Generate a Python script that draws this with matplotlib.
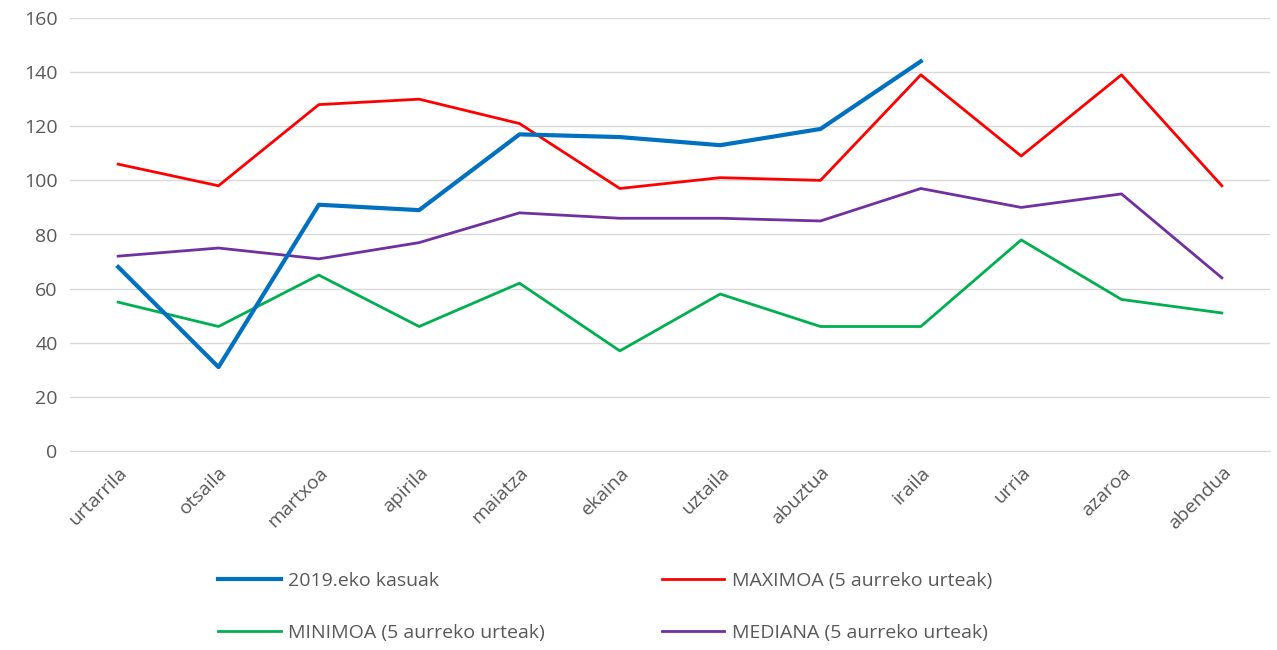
import matplotlib.pyplot as plt

months = ['urtarrila', 'otsaila', 'martxoa', 'apirila', 'maiatza', 'ekaina',
          'uztaila', 'abuztua', 'iraila', 'urria', 'azaroa', 'abendua']
cases_2019 = [68, 31, 91, 89, 117, 116, 113, 119, 144]
maximoa = [106, 98, 128, 130, 121, 97, 101, 100, 139, 109, 139, 98]
minimoa = [55, 46, 65, 46, 62, 37, 58, 46, 46, 78, 56, 51]
mediana = [72, 75, 71, 77, 88, 86, 86, 85, 97, 90, 95, 64]

plt.rcParams['font.family'] = ['Open Sans', 'DejaVu Sans']

fig = plt.figure(figsize=(12.77, 6.5), dpi=100)
ax = fig.add_axes([70 / 1277, 1 - 451 / 650, 1200 / 1277, 433 / 650])

x = list(range(len(months)))
l_max, = ax.plot(x, maximoa, color='#ff0000', lw=2)
l_min, = ax.plot(x, minimoa, color='#00b050', lw=2)
l_med, = ax.plot(x, mediana, color='#7030a0', lw=2)
l_2019, = ax.plot(x[:len(cases_2019)], cases_2019, color='#0070c0', lw=3)

ax.set_xlim(-0.48, len(months) - 0.52)
ax.set_ylim(0, 160)
ax.set_yticks(range(0, 161, 20))
ax.set_xticks(x)
ax.set_xticklabels(months, rotation=45, ha='right', rotation_mode='anchor')
ax.tick_params(axis='both', length=0, labelsize=14, colors='#595959', pad=9)
ax.grid(axis='y', color='#d9d9d9', lw=1)
ax.set_axisbelow(True)
for s in ['top', 'right', 'left']:
    ax.spines[s].set_visible(False)
ax.spines['bottom'].set_color('#d9d9d9')

# legend fills column-wise, so order handles to get rows: 2019/MAX, MIN/MED
handles = [l_2019, l_min, l_max, l_med]
labels = ['2019.eko kasuak', 'MINIMOA (5 aurreko urteak)',
          'MAXIMOA (5 aurreko urteak)', 'MEDIANA (5 aurreko urteak)']
fig.legend(handles, labels, ncol=2, loc='center', bbox_to_anchor=(0.474, 0.066),
           frameon=False, fontsize=14, labelcolor='#595959',
           columnspacing=6.0, handlelength=3.2, handletextpad=0.4,
           labelspacing=1.75)

fig.savefig('out.png', dpi=100)
